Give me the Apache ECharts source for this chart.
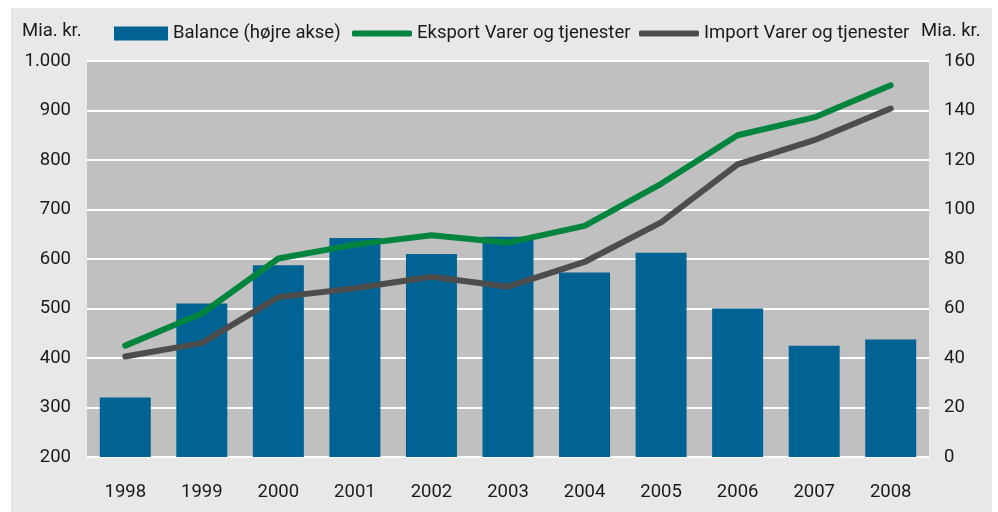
<!DOCTYPE html>
<html>
<head>
<meta charset="utf-8">
<script src="https://cdn.jsdelivr.net/npm/echarts@6/dist/echarts.min.js"></script>
<style>
  html, body { margin: 0; padding: 0; background: #fff; }
  #main { width: 998px; height: 512px; }
</style>
</head>
<body>
<div id="main"></div>
<script>
// data
var years = ['1998', '1999', '2000', '2001', '2002', '2003', '2004', '2005', '2006', '2007', '2008'];
var balance = [24, 62, 77.5, 88.5, 82, 89, 74.5, 82.5, 60, 45, 47.5];          // right axis
var eksport = [425, 490, 601, 629, 648, 633, 667, 752, 850, 886, 951];       // left axis
var importVT = [403, 430, 523, 541, 564, 544, 594, 674, 791, 840, 904];     // left axis

var FONT = 'Roboto';
var FS = 18.5;
var txt = { fontFamily: FONT, fontSize: FS, color: '#1a1a1a' };

var chart = echarts.init(document.getElementById('main'));

chart.setOption({
  backgroundColor: '#ffffff',
  animation: false,
  textStyle: { fontFamily: FONT },
  graphic: [{
    type: 'rect',
    z: -10,
    shape: { x: 11, y: 8, width: 981, height: 504 },
    style: { fill: '#e8e8e8' }
  }],
  title: [
    { text: 'Mia. kr.', left: 17, top: 17, textStyle: { fontFamily: FONT, fontSize: FS, fontWeight: 'normal', color: '#1a1a1a' } },
    { text: 'Mia. kr.', left: 916, top: 17, textStyle: { fontFamily: FONT, fontSize: FS, fontWeight: 'normal', color: '#1a1a1a' } }
  ],
  legend: [
    { data: ['Balance (højre akse)'], left: 109, top: 19, itemWidth: 54, itemHeight: 14, icon: 'rect', textStyle: txt },
    { data: ['Eksport Varer og tjenester'], left: 347, top: 19, itemWidth: 60, itemHeight: 6, icon: 'roundRect', textStyle: txt },
    { data: ['Import Varer og tjenester'], left: 634, top: 19, itemWidth: 60, itemHeight: 6, icon: 'roundRect', textStyle: txt }
  ],
  grid: {
    left: 87, right: 69, top: 61, bottom: 55,
    show: true, backgroundColor: '#c0c0c0', borderWidth: 0
  },
  xAxis: {
    type: 'category',
    data: years,
    axisLine: { show: false },
    axisTick: { show: false },
    axisLabel: { fontFamily: FONT, fontSize: FS, color: '#1a1a1a', margin: 26 }
  },
  yAxis: [{
    type: 'value',
    min: 200, max: 1000, interval: 100,
    axisLine: { show: false },
    axisTick: { show: false },
    axisLabel: {
      fontFamily: FONT, fontSize: FS, color: '#1a1a1a', margin: 16,
      formatter: function (v) { return v >= 1000 ? (v / 1000) + '.' + String(v % 1000).padStart(3, '0') : v; }
    },
    splitLine: { lineStyle: { color: '#ffffff', width: 2 } }
  }, {
    type: 'value',
    min: 0, max: 160, interval: 20,
    axisLine: { show: false },
    axisTick: { show: false },
    axisLabel: { fontFamily: FONT, fontSize: FS, color: '#1a1a1a', margin: 15 },
    splitLine: { show: false }
  }],
  series: [{
    name: 'Balance (højre akse)',
    type: 'bar',
    yAxisIndex: 1,
    barWidth: 51,
    color: '#006394',
    data: balance
  }, {
    name: 'Eksport Varer og tjenester',
    type: 'line',
    color: '#00843e',
    showSymbol: false,
    symbol: 'none',
    lineStyle: { width: 6, cap: 'round', join: 'round' },
    data: eksport,
    z: 4
  }, {
    name: 'Import Varer og tjenester',
    type: 'line',
    color: '#4d4d4d',
    showSymbol: false,
    symbol: 'none',
    lineStyle: { width: 6, cap: 'round', join: 'round' },
    data: importVT,
    z: 3
  }]
});
</script>
</body>
</html>
